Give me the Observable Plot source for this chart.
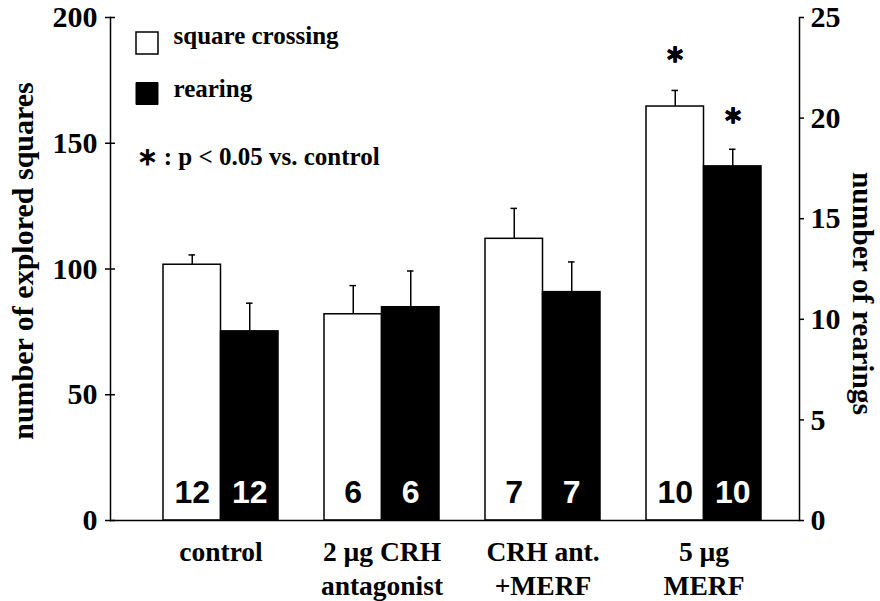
<!DOCTYPE html>
<html>
<head>
<meta charset="utf-8">
<script src="https://cdn.jsdelivr.net/npm/d3@7"></script>
<script src="https://cdn.jsdelivr.net/npm/@observablehq/plot@0.6"></script>
<style>
  html, body { margin: 0; padding: 0; background: white; }
</style>
</head>
<body>
<div id="chart"></div>
<script>
// ---- data ----
const groups = ["control", "2 µg CRH\nantagonist", "CRH ant.\n+MERF", "5 µg\nMERF"];
const squares = [101.7, 82.0, 112.0, 164.6];          // number of explored squares
const squaresErr = [3.9, 11.4, 12.1, 6.4];
const rearings = [9.4, 10.6, 11.35, 17.6];             // number of rearings (right axis)
const rearingsErr = [1.4, 1.8, 1.5, 0.85];
const nAnimals = [12, 6, 7, 10];
const significant = [false, false, false, true];
const leftTicks = [0, 50, 100, 150, 200];
const rightTicks = [0, 5, 10, 15, 20, 25];
const legendLabels = ["square crossing", "rearing"];
const noteText = "∗ : p < 0.05 vs. control";
const leftLabel = "number of explored squares";
const rightLabel = "number of rearings";

// right axis 0..25 shares the left axis 0..200
const ratio = 200 / 25;

const sqRows = groups.map((g, i) => ({group: g, value: squares[i], top: squares[i] + squaresErr[i], n: nAnimals[i], sig: significant[i]}));
const reRows = groups.map((g, i) => ({group: g, value: rearings[i] * ratio, top: (rearings[i] + rearingsErr[i]) * ratio, n: nAnimals[i], sig: significant[i]}));

const half = 57.5;
const serif = "Liberation Serif, Times New Roman, serif";
const sans = "Liberation Sans, Arial, sans-serif";

const chart = Plot.plot({
  width: 880,
  height: 601,
  marginTop: 17,
  marginBottom: 81,
  marginLeft: 110,
  marginRight: 81,
  style: {fontFamily: serif, fontWeight: "bold", fontSize: "30px", background: "white", color: "black", overflow: "visible"},
  x: {type: "band", domain: groups, range: [161.7, 761.2], paddingInner: 0.288, paddingOuter: 0, align: 0.5, axis: null},
  y: {domain: [0, 200], axis: null},
  marks: [
    // bars
    Plot.barY(sqRows, {x: "group", y: "value", fill: "white", stroke: "black", strokeWidth: 1.5, insetRight: half}),
    Plot.barY(reRows, {x: "group", y: "value", fill: "black", stroke: "black", strokeWidth: 1.5, insetLeft: half}),
    // error bars (upward only)
    Plot.ruleX(sqRows, {x: "group", y1: "value", y2: "top", dx: -half / 2, stroke: "black", strokeWidth: 1.5}),
    Plot.ruleX(reRows, {x: "group", y1: "value", y2: "top", dx: half / 2, stroke: "black", strokeWidth: 1.5}),
    Plot.tickY(sqRows, {x: "group", y: "top", insetLeft: 25.5, insetRight: 83, stroke: "black", strokeWidth: 1.5}),
    Plot.tickY(reRows, {x: "group", y: "top", insetLeft: 83, insetRight: 25.5, stroke: "black", strokeWidth: 1.5}),
    // significance stars
    Plot.text(sqRows.filter(d => d.sig), {x: "group", y: "top", text: () => "∗", dx: -half / 2, dy: -36, fontSize: 24, stroke: "black", strokeWidth: 0.8, fill: "black"}),
    Plot.text(reRows.filter(d => d.sig), {x: "group", y: "top", text: () => "∗", dx: half / 2, dy: -34, fontSize: 24, stroke: "black", strokeWidth: 0.8, fill: "black"}),
    // n per bar
    Plot.text(sqRows, {x: "group", frameAnchor: "bottom", text: "n", dx: -half / 2, dy: -18, lineAnchor: "bottom", fontFamily: sans, fontSize: 32, fill: "black"}),
    Plot.text(reRows, {x: "group", frameAnchor: "bottom", text: "n", dx: half / 2, dy: -18, lineAnchor: "bottom", fontFamily: sans, fontSize: 32, fill: "white"}),
    // axis lines
    Plot.frame({anchor: "left", stroke: "black", strokeWidth: 1.5}),
    Plot.frame({anchor: "right", stroke: "black", strokeWidth: 1.5}),
    Plot.frame({anchor: "bottom", stroke: "black", strokeWidth: 1.5}),
    // left axis
    Plot.axisY({anchor: "left", ticks: leftTicks, tickSize: 10, dx: 5, tickPadding: 8, fontSize: 30, strokeWidth: 1.5, label: null}),
    // right axis (rearings)
    Plot.axisY({anchor: "right", ticks: rightTicks.map(t => t * ratio), tickFormat: d => d / ratio, tickSize: 4, tickPadding: 7, fontSize: 30, strokeWidth: 1.5, label: null}),
    // x axis labels
    Plot.axisX({anchor: "bottom", tickSize: 0, tickPadding: 17, fontSize: 27.5, lineHeight: 1.22, label: null}),
    // axis titles
    Plot.text([leftLabel], {frameAnchor: "left", text: d => d, rotate: -90, dx: -87, dy: -8, textAnchor: "middle", fontSize: 30, fill: "black"}),
    Plot.text([rightLabel], {frameAnchor: "right", text: d => d, rotate: 90, dx: 63, dy: 24.5, textAnchor: "middle", fontSize: 29.5, fill: "black"}),
    // legend
    Plot.dot([legendLabels[0]], {frameAnchor: "top-left", dx: 36.5, dy: 25.5, symbol: "square", r: 12.41, fill: "white", stroke: "black", strokeWidth: 1.5}),
    Plot.dot([legendLabels[1]], {frameAnchor: "top-left", dx: 36.5, dy: 76, symbol: "square", r: 12.41, fill: "black", stroke: "black", strokeWidth: 1}),
    Plot.text([legendLabels[0]], {frameAnchor: "top-left", text: d => d, dx: 63, dy: 26.3, textAnchor: "start", lineAnchor: "bottom", fontSize: 25, fill: "black"}),
    Plot.text([legendLabels[1]], {frameAnchor: "top-left", text: d => d, dx: 63, dy: 79.7, textAnchor: "start", lineAnchor: "bottom", fontSize: 25, fill: "black"}),
    Plot.text([noteText], {frameAnchor: "top-left", text: d => d, dx: 26, dy: 147, textAnchor: "start", lineAnchor: "bottom", fontSize: 25, fill: "black"})
  ]
});
document.getElementById("chart").appendChild(chart);
</script>
</body>
</html>
